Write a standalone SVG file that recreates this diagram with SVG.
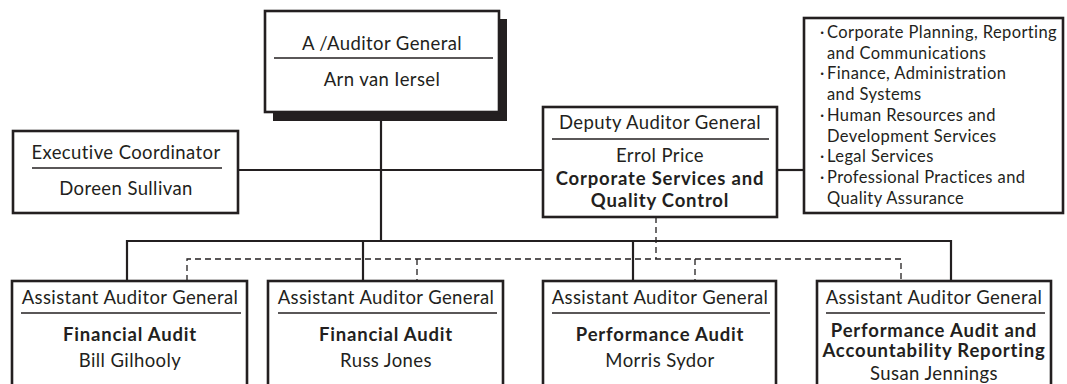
<svg xmlns="http://www.w3.org/2000/svg" width="1067" height="384" viewBox="0 0 1067 384">
  <style>
    .box { fill: #ffffff; stroke: #231f20; stroke-width: 2.6; }
    .shadow { fill: #231f20; }
    .rule { stroke: #231f20; stroke-width: 1.3; }
    .link { fill: none; stroke: #231f20; stroke-width: 2.2; }
    .dash { fill: none; stroke: #231f20; stroke-width: 1.3; stroke-dasharray: 6 4; }
    text { font-family: Lato, "Open Sans", sans-serif; fill: #231f20; }
    .t { font-size: 18.5px; letter-spacing: 0.4px; text-anchor: middle; }
    .b { font-size: 18.5px; letter-spacing: 0.8px; text-anchor: middle; font-weight: bold; }
    .li { font-size: 16.5px; letter-spacing: 0.4px; }
  </style>

  <!-- reporting lines -->
  <g id="connectors">
    <path class="link" d="M381 112 V241"/>
    <path class="link" d="M238 170 H543"/>
    <path class="link" d="M777 170 H804"/>
    <path class="link" d="M127 281 V241 H951 V281"/>
    <path class="link" d="M363 241 V281"/>
    <path class="link" d="M633 241 V281"/>
    <path class="dash" d="M656 217 V259"/>
    <path class="dash" d="M187 281 V259 H901 V281"/>
    <path class="dash" d="M417 259 V281"/>
    <path class="dash" d="M695 259 V281"/>
  </g>

  <g id="auditor-general">
    <rect class="shadow" x="273" y="19" width="234" height="102"/>
    <rect class="box" x="265" y="11" width="234" height="101"/>
    <text class="t" x="382" y="50">A /Auditor General</text>
    <line class="rule" x1="274" y1="58" x2="493" y2="58"/>
    <text class="t" x="382" y="86">Arn van Iersel</text>
  </g>

  <g id="executive-coordinator">
    <rect class="box" x="13" y="131" width="225" height="82"/>
    <text class="t" x="126" y="159">Executive Coordinator</text>
    <line class="rule" x1="32" y1="168" x2="222" y2="168"/>
    <text class="t" x="126" y="195">Doreen Sullivan</text>
  </g>

  <g id="deputy-auditor-general">
    <rect class="box" x="543" y="107" width="234" height="110"/>
    <text class="t" x="660" y="129">Deputy Auditor General</text>
    <line class="rule" x1="552" y1="139" x2="769" y2="139"/>
    <text class="t" x="660" y="162">Errol Price</text>
    <text class="b" x="660" y="185">Corporate Services and</text>
    <text class="b" x="660" y="207">Quality Control</text>
  </g>

  <g id="corporate-services">
    <rect class="box" x="804" y="18" width="259" height="195"/>
    <g class="li">
      <text x="820" y="38">·</text><text x="827" y="38">Corporate Planning, Reporting</text>
      <text x="827" y="58.7">and Communications</text>
      <text x="820" y="79.4">·</text><text x="827" y="79.4">Finance, Administration</text>
      <text x="827" y="100.1">and Systems</text>
      <text x="820" y="120.8">·</text><text x="827" y="120.8">Human Resources and</text>
      <text x="827" y="141.5">Development Services</text>
      <text x="820" y="162.2">·</text><text x="827" y="162.2">Legal Services</text>
      <text x="820" y="182.9">·</text><text x="827" y="182.9">Professional Practices and</text>
      <text x="827" y="203.6">Quality Assurance</text>
    </g>
  </g>

  <g id="aag-financial-1">
    <rect class="box" x="12" y="281" width="235" height="120"/>
    <text class="t" x="130" y="304">Assistant Auditor General</text>
    <line class="rule" x1="21" y1="313" x2="241" y2="313"/>
    <text class="b" x="130" y="341">Financial Audit</text>
    <text class="t" x="130" y="367">Bill Gilhooly</text>
  </g>

  <g id="aag-financial-2">
    <rect class="box" x="268" y="281" width="235" height="120"/>
    <text class="t" x="386" y="304">Assistant Auditor General</text>
    <line class="rule" x1="278" y1="313" x2="497" y2="313"/>
    <text class="b" x="386" y="341">Financial Audit</text>
    <text class="t" x="386" y="367">Russ Jones</text>
  </g>

  <g id="aag-performance">
    <rect class="box" x="543" y="281" width="233" height="120"/>
    <text class="t" x="660" y="304">Assistant Auditor General</text>
    <line class="rule" x1="552" y1="313" x2="770" y2="313"/>
    <text class="b" x="660" y="341">Performance Audit</text>
    <text class="t" x="660" y="367">Morris Sydor</text>
  </g>

  <g id="aag-accountability">
    <rect class="box" x="817" y="281" width="234" height="120"/>
    <text class="t" x="934" y="304">Assistant Auditor General</text>
    <line class="rule" x1="826" y1="313" x2="1045" y2="313"/>
    <text class="b" x="934" y="337">Performance Audit and</text>
    <text class="b" x="934" y="357">Accountability Reporting</text>
    <text class="t" x="934" y="380">Susan Jennings</text>
  </g>
</svg>
